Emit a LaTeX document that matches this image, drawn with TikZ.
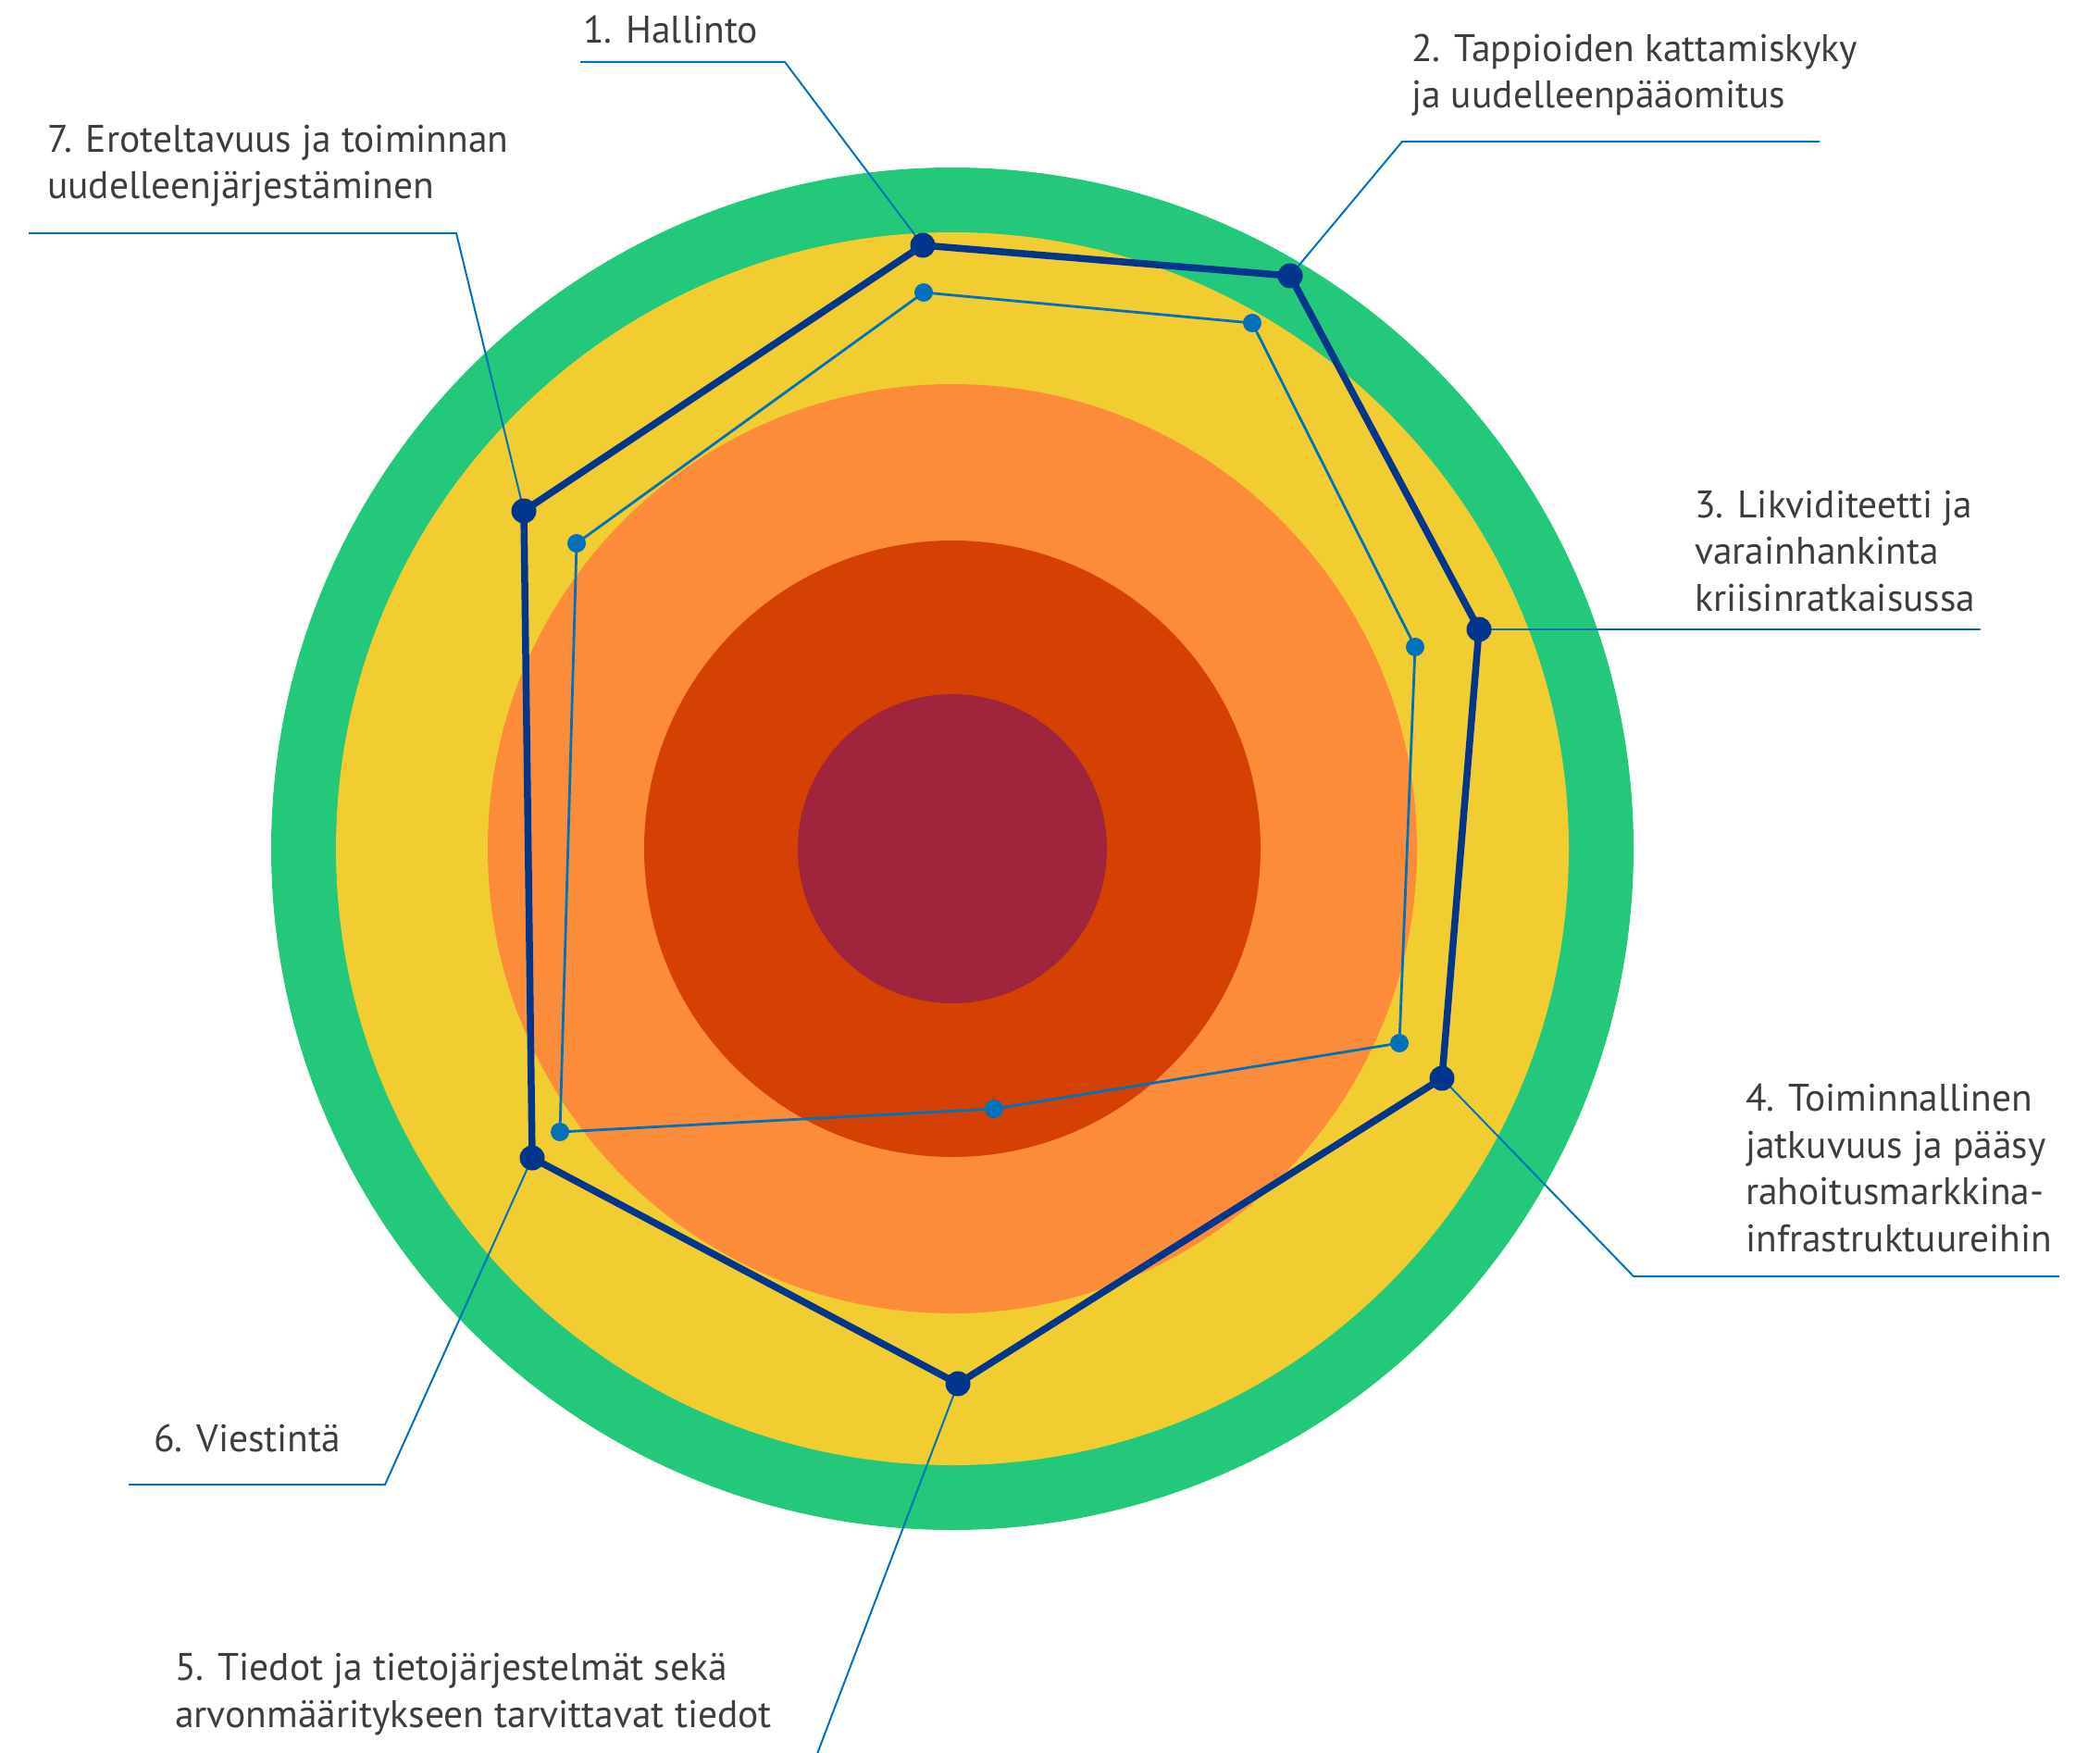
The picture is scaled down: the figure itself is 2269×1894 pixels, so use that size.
\documentclass[tikz,border=0pt]{standalone}
\usepackage{fontspec}
\setmainfont{PT Sans}
\definecolor{cgreen}{HTML}{24C87A}
\definecolor{cyellow}{HTML}{F2CD31}
\definecolor{corange}{HTML}{FD8C3A}
\definecolor{cdorange}{HTML}{D54103}
\definecolor{cred}{HTML}{A0243C}
\definecolor{dblue}{HTML}{00368C}
\definecolor{lblue}{HTML}{0072BB}
\definecolor{txt}{HTML}{3D3D3D}
\begin{document}
\begin{tikzpicture}[x=1pt,y=-1pt,
  lbl/.style={anchor=base west, align=left, text=txt, inner sep=0pt,
    font=\fontsize{41.5}{50.5}\selectfont},
  leader/.style={draw=lblue, line width=2pt},
  bigline/.style={draw=dblue, line width=7.5pt, line join=round},
  smallline/.style={draw=lblue, line width=2.8pt, line join=round},
  bigdot/.style={circle, fill=dblue, minimum size=27pt, inner sep=0pt},
  smalldot/.style={circle, fill=lblue, minimum size=20pt, inner sep=0pt}]
\useasboundingbox (0,0) rectangle (2269,1894);
% rings
\coordinate (o) at (1029,917);
\fill[cgreen] (o) circle (736pt);
\fill[cyellow] (o) circle (666pt);
\fill[corange] (o) circle (502pt);
\fill[cdorange] (o) circle (333pt);
\fill[cred] (o) circle (167pt);
% outer profile points
\coordinate (p1) at (997,265);
\coordinate (p2) at (1394,298);
\coordinate (p3) at (1598,680);
\coordinate (p4) at (1558,1165);
\coordinate (p5) at (1035,1495);
\coordinate (p6) at (575,1251);
\coordinate (p7) at (566,552);
% inner profile points
\coordinate (q1) at (998,316);
\coordinate (q2) at (1353,349);
\coordinate (q3) at (1529,699);
\coordinate (q4) at (1512,1127);
\coordinate (q5) at (1074,1198);
\coordinate (q6) at (605,1223);
\coordinate (q7) at (623,587);
% leader corners and ends
\coordinate (c1) at (848,67);   \coordinate (e1) at (627,67);
\coordinate (c2) at (1515,153); \coordinate (e2) at (1966,153);
\coordinate (e3) at (2140,680);
\coordinate (c4) at (1765,1379); \coordinate (e4) at (2225,1379);
\coordinate (e5) at (881,1900);
\coordinate (c6) at (416,1604); \coordinate (e6) at (139,1604);
\coordinate (c7) at (493,252);  \coordinate (e7) at (31,252);
% leaders
\draw[leader] (p1) -- (c1) -- (e1);
\draw[leader] (p2) -- (c2) -- (e2);
\draw[leader] (p3) -- (e3);
\draw[leader] (p4) -- (c4) -- (e4);
\draw[leader] (p5) -- (e5);
\draw[leader] (p6) -- (c6) -- (e6);
\draw[leader] (p7) -- (c7) -- (e7);
% profiles
\draw[smallline] (q1) -- (q2) -- (q3) -- (q4) -- (q5) -- (q6) -- (q7) -- cycle;
\draw[bigline] (p1) -- (p2) -- (p3) -- (p4) -- (p5) -- (p6) -- (p7) -- cycle;
\foreach \i in {1,...,7} {
  \node[smalldot] (s\i) at (q\i) {};
  \node[bigdot] (d\i) at (p\i) {};
}
% labels (anchor = baseline of the last line)
\node[lbl] (t1) at (630,47) {1. Hallinto};
\node[lbl] (t2) at (1525,117) {2. Tappioiden kattamiskyky\\ja uudelleenpääomitus};
\node[lbl] (t3) at (1831,660) {3. Likviditeetti ja\\varainhankinta\\kriisinratkaisussa};
\node[lbl] (t4) at (1886,1352) {4. Toiminnallinen\\jatkuvuus ja pääsy\\rahoitusmarkkina-\\infrastruktuureihin};
\node[lbl] (t5) at (189,1866) {5. Tiedot ja tietojärjestelmät sekä\\arvonmääritykseen tarvittavat tiedot};
\node[lbl] (t6) at (166,1568) {6. Viestintä};
\node[lbl] (t7) at (51,215) {7. Eroteltavuus ja toiminnan\\uudelleenjärjestäminen};
\end{tikzpicture}
\end{document}
